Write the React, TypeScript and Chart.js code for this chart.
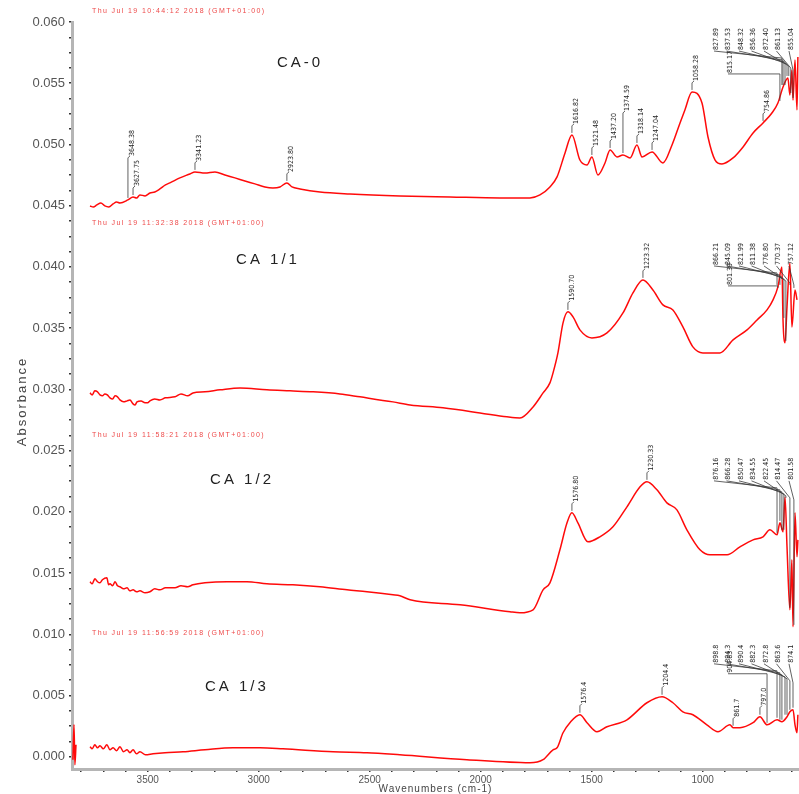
import React, { useEffect, useRef } from "react";
import { Chart, registerables } from "chart.js";

Chart.register(...registerables);

// ---------- axis ticks ----------
const X_MIN = 566;
const X_MAX = 3841;
const X_MAJOR = [3500, 3000, 2500, 2000, 1500, 1000];
const Y_MIN = -0.001;
const Y_MAX = 0.06;
const Y_MAJOR = [0, 0.005, 0.01, 0.015, 0.02, 0.025, 0.03, 0.035, 0.04, 0.045, 0.05, 0.055, 0.06];

// ---------- CA-0 ----------
const CA0_WN = [3760, 3745, 3729, 3711, 3693, 3675, 3656, 3640, 3625, 3589, 3566, 3550, 3535, 3512, 3490, 3468, 3445, 3420, 3400, 3355, 3310, 3287, 3242, 3197, 3152, 3107, 3062, 3017, 2972, 2936, 2904, 2873, 2850, 2814, 2724, 2589, 2364, 2138, 1913, 1778, 1733, 1688, 1656, 1620, 1589, 1553, 1521, 1499, 1472, 1440, 1417, 1386, 1359, 1327, 1296, 1273, 1228, 1179, 1138, 1102, 1080, 1048, 1003, 976, 944, 913, 863, 818, 773, 728, 688, 661, 638, 616, 607, 598, 593, 584, 575, 571];
const CA0_ABS = [0.04498, 0.0449, 0.04506, 0.04522, 0.04498, 0.0449, 0.04514, 0.0453, 0.04522, 0.04547, 0.04571, 0.04563, 0.04588, 0.0458, 0.04604, 0.04612, 0.04637, 0.0467, 0.04686, 0.04727, 0.04759, 0.04776, 0.04767, 0.04776, 0.04751, 0.04727, 0.04702, 0.04678, 0.04653, 0.04645, 0.04653, 0.04686, 0.04653, 0.04637, 0.04612, 0.04596, 0.0458, 0.04571, 0.04563, 0.04563, 0.04588, 0.04653, 0.04735, 0.04931, 0.05078, 0.04873, 0.04833, 0.04898, 0.04751, 0.04849, 0.04955, 0.04898, 0.04914, 0.0489, 0.04996, 0.04898, 0.04939, 0.04849, 0.04996, 0.05176, 0.05282, 0.05429, 0.05339, 0.05061, 0.04873, 0.04841, 0.0489, 0.0498, 0.05094, 0.05176, 0.05257, 0.05339, 0.05469, 0.05543, 0.05404, 0.05608, 0.05363, 0.0569, 0.05282, 0.05714];
const CA0_PEAKS: [number, string][] = [[3589, "3648.38"], [3566, "3627.75"], [3287, "3341.23"], [2873, "2923.80"], [1589, "1616.82"], [1499, "1521.48"], [1417, "1437.20"], [1359, "1374.59"], [1296, "1318.14"], [1228, "1247.04"], [1048, "1058.28"], [728, "754.86"]];
const CA0_CLUSTER: [number, string][] = [[643, "827.89"], [638, "837.53"], [629, "848.32"], [620, "856.36"], [612, "872.40"], [603, "861.13"], [593, "855.04"]];
const CA0_CLUSTER2: [number, string][] = [[652, "815.17"]];

// ---------- CA 1/1 ----------
const CA11_WN = [3760, 3750, 3738, 3726, 3715, 3704, 3693, 3682, 3670, 3658, 3647, 3636, 3625, 3609, 3593, 3580, 3566, 3557, 3548, 3530, 3512, 3500, 3490, 3468, 3445, 3420, 3377, 3350, 3320, 3296, 3242, 3174, 3084, 2963, 2859, 2755, 2634, 2544, 2395, 2318, 2170, 2003, 1882, 1823, 1764, 1719, 1688, 1674, 1652, 1629, 1607, 1584, 1553, 1499, 1431, 1359, 1314, 1269, 1224, 1179, 1134, 1089, 1044, 999, 922, 863, 800, 755, 710, 683, 661, 643, 638, 629, 620, 607, 598, 584, 575];
const CA11_ABS = [0.02971, 0.02955, 0.02988, 0.0298, 0.02955, 0.02947, 0.02963, 0.02955, 0.02931, 0.02922, 0.02947, 0.02939, 0.02914, 0.02898, 0.02906, 0.02914, 0.02882, 0.02873, 0.02898, 0.02906, 0.0289, 0.0289, 0.02906, 0.02922, 0.02914, 0.02931, 0.02939, 0.02963, 0.02947, 0.02971, 0.0298, 0.02996, 0.03012, 0.02996, 0.02988, 0.0298, 0.02963, 0.02939, 0.02898, 0.02873, 0.02849, 0.02808, 0.02776, 0.02767, 0.02857, 0.02971, 0.03053, 0.03135, 0.03298, 0.03543, 0.03633, 0.03592, 0.03486, 0.0342, 0.03461, 0.03624, 0.03788, 0.03894, 0.03812, 0.0369, 0.03649, 0.0351, 0.03347, 0.03298, 0.03298, 0.03404, 0.03486, 0.03567, 0.03649, 0.03731, 0.03837, 0.04, 0.03567, 0.0338, 0.03673, 0.04033, 0.0351, 0.03812, 0.03731];
const CA11_PEAKS: [number, string][] = [[1607, "1590.70"], [1269, "1223.32"]];
const CA11_CLUSTER: [number, string][] = [[665, "866.21"], [652, "845.09"], [643, "821.99"], [634, "811.38"], [625, "776.80"], [607, "770.37"], [589, "757.12"]];
const CA11_CLUSTER2: [number, string][] = [[661, "801.39"]];

// ---------- CA 1/2 ----------
const CA12_WN = [3760, 3750, 3738, 3726, 3715, 3704, 3684, 3676, 3670, 3658, 3647, 3636, 3625, 3609, 3593, 3580, 3566, 3550, 3535, 3512, 3490, 3468, 3445, 3420, 3377, 3350, 3320, 3296, 3242, 3143, 3053, 2963, 2846, 2724, 2602, 2512, 2395, 2364, 2318, 2093, 1868, 1823, 1764, 1719, 1688, 1643, 1611, 1589, 1562, 1517, 1463, 1404, 1341, 1282, 1251, 1206, 1161, 1116, 1071, 1012, 967, 890, 832, 773, 728, 697, 665, 652, 638, 629, 620, 607, 598, 593, 584, 575, 571];
const CA12_ABS = [0.01429, 0.01412, 0.01453, 0.01429, 0.0142, 0.01445, 0.01461, 0.01404, 0.01412, 0.01396, 0.01429, 0.01396, 0.01388, 0.01371, 0.0138, 0.01355, 0.01363, 0.01347, 0.01355, 0.01339, 0.01347, 0.01371, 0.01363, 0.0138, 0.0138, 0.01396, 0.01388, 0.01404, 0.0142, 0.01429, 0.01429, 0.01412, 0.01404, 0.01388, 0.01363, 0.01347, 0.01322, 0.01314, 0.01282, 0.01241, 0.01184, 0.01176, 0.012, 0.01363, 0.0142, 0.0169, 0.0191, 0.01992, 0.0191, 0.01755, 0.01796, 0.01878, 0.02041, 0.02204, 0.02245, 0.0218, 0.02073, 0.02016, 0.01853, 0.0169, 0.01649, 0.01649, 0.01714, 0.01771, 0.01796, 0.01853, 0.01812, 0.0191, 0.01837, 0.02122, 0.01714, 0.012, 0.01608, 0.01061, 0.01992, 0.01633, 0.01771];
const CA12_PEAKS: [number, string][] = [[1589, "1576.80"], [1251, "1230.33"]];
const CA12_CLUSTER: [number, string][] = [[665, "876.16"], [652, "866.28"], [643, "850.47"], [634, "834.55"], [625, "822.45"], [607, "814.47"], [589, "801.58"]];
const CA12_CLUSTER2: [number, string][] = [];

// ---------- CA 1/3 ----------
const CA13_WN = [3837, 3832, 3828, 3823, 3800, 3760, 3750, 3738, 3726, 3715, 3700, 3684, 3670, 3656, 3640, 3625, 3609, 3593, 3580, 3566, 3550, 3535, 3510, 3476, 3422, 3341, 3242, 3116, 2994, 2891, 2665, 2512, 2364, 2062, 1778, 1719, 1674, 1656, 1629, 1598, 1553, 1521, 1476, 1431, 1341, 1251, 1183, 1134, 1089, 1044, 981, 931, 877, 863, 832, 773, 742, 710, 665, 643, 620, 607, 593, 584, 575, 571];
const CA13_ABS = [-0.00024, 0.00261, -0.00065, 0.00098, null, 0.00082, 0.00065, 0.00098, 0.00073, 0.0009, 0.00065, 0.00098, 0.00057, 0.00073, 0.00049, 0.00082, 0.00041, 0.00057, 0.00033, 0.00057, 0.00024, 0.00041, 0.00016, 0.00024, 0.00033, 0.00041, 0.00057, 0.00073, 0.00073, 0.00065, 0.00041, 0.00033, 0.00016, -0.00024, -0.00049, -0.00024, 0.00057, 0.00073, 0.00196, 0.00278, 0.00343, 0.00278, 0.00204, 0.00245, 0.00302, 0.00441, 0.0049, 0.00441, 0.00367, 0.00343, 0.00261, 0.00204, 0.00261, 0.00237, 0.00237, 0.00278, 0.00327, 0.00261, 0.00302, 0.00286, 0.00327, 0.00367, 0.00384, 0.00261, 0.00196, 0.00343];
const CA13_PEAKS: [number, string][] = [[1553, "1576.4"], [1183, "1204.4"], [863, "861.7"], [742, "797.0"]];
const CA13_CLUSTER: [number, string][] = [[665, "898.8"], [652, "894.3"], [643, "890.4"], [629, "882.3"], [620, "872.8"], [607, "863.6"], [593, "874.1"]];
const CA13_CLUSTER2: [number, string][] = [[710, "904.63"]];

// ---------- texts ----------
const SAMPLE_NAMES = ["CA-0", "CA 1/1", "CA 1/2", "CA 1/3"];
const SCAN_DATES = [
  "Thu Jul 19 10:44:12 2018 (GMT+01:00)",
  "Thu Jul 19 11:32:38 2018 (GMT+01:00)",
  "Thu Jul 19 11:58:21 2018 (GMT+01:00)",
  "Thu Jul 19 11:56:59 2018 (GMT+01:00)",
];
const TALL_LABELS = ["3648.38", "1374.59"];

const SERIES = [
  { wn: CA0_WN, abs: CA0_ABS as (number | null)[], peaks: CA0_PEAKS, cluster: CA0_CLUSTER, cluster2: CA0_CLUSTER2 },
  { wn: CA11_WN, abs: CA11_ABS as (number | null)[], peaks: CA11_PEAKS, cluster: CA11_CLUSTER, cluster2: CA11_CLUSTER2 },
  { wn: CA12_WN, abs: CA12_ABS as (number | null)[], peaks: CA12_PEAKS, cluster: CA12_CLUSTER, cluster2: CA12_CLUSTER2 },
  { wn: CA13_WN, abs: CA13_ABS as (number | null)[], peaks: CA13_PEAKS, cluster: CA13_CLUSTER, cluster2: CA13_CLUSTER2 },
];

// text anchors (in axis units) for names, dates and label rows
const NAME_ANCHORS = [[2814, 0.05665], [2958, 0.04057], [3075, 0.02261], [3098, 0.00571]];
const DATE_ANCHORS = [[3751, 0.0609], [3751, 0.04359], [3751, 0.02629], [3751, 0.01012]];
const CLUSTER_ROW = [0.05771, 0.04016, 0.02261, 0.00767];
const CLUSTER2_ROW = [0.05584, 0.03853, 0.0, 0.00686];

const FONT = '"Liberation Sans", Arial, sans-serif';
const NARROW = '"Liberation Sans Narrow", "DejaVu Sans Condensed", "Liberation Sans", sans-serif';

function vtext(ctx: any, t: string, x: number, y: number) {
  ctx.save();
  ctx.translate(x, y);
  ctx.rotate(-Math.PI / 2);
  ctx.textAlign = "left";
  ctx.textBaseline = "middle";
  ctx.fillText(t, 0, 0);
  ctx.restore();
}

const annotPlugin = {
  id: "spectraAnnotations",
  afterDatasetsDraw(chart: any) {
    const ctx = chart.ctx;
    const area = chart.chartArea;
    const xs = chart.scales.x;
    const ys = chart.scales.y;
    const X = (v: number) => xs.getPixelForValue(v);
    const Y = (v: number) => ys.getPixelForValue(v);
    ctx.save();
    SERIES.forEach((s, si) => {
      const curveY = (w: number) => {
        let best = 0;
        let bd = Infinity;
        s.wn.forEach((ww, j) => {
          if (s.abs[j] == null) return;
          const d = Math.abs(ww - w);
          if (d < bd) {
            bd = d;
            best = j;
          }
        });
        return Y(s.abs[best] as number);
      };
      ctx.strokeStyle = "#3a3a3a";
      ctx.fillStyle = "#222";
      ctx.lineWidth = 0.8;
      ctx.font = "7px " + NARROW;
      s.peaks.forEach(([w, t]) => {
        const px = X(w);
        const py = curveY(w) - 2;
        const len = TALL_LABELS.includes(t) ? 40 : 7;
        ctx.beginPath();
        ctx.moveTo(px, py);
        ctx.lineTo(px, py - len);
        ctx.lineTo(px + 2, py - len - 2);
        ctx.stroke();
        vtext(ctx, t, px + 4, py - len - 2);
      });
      const n = s.cluster.length;
      const rowY = Y(CLUSTER_ROW[si]);
      s.cluster.forEach(([w, t], i) => {
        const px = X(w);
        const py = curveY(w) - 2;
        const cx = area.right - 8 - (n - 1 - i) * 12.5;
        const elbow = rowY + 8 + i * 2;
        ctx.beginPath();
        ctx.moveTo(cx - 2, rowY + 1);
        ctx.lineTo(px, elbow);
        ctx.lineTo(px, Math.max(py, elbow + 2));
        ctx.stroke();
        vtext(ctx, t, cx, rowY);
      });
      s.cluster2.forEach(([w, t]) => {
        const px = X(w);
        const py = curveY(w) - 2;
        const cx = area.right - 8 - (n - 1) * 12.5 + 14;
        const ry = Y(CLUSTER2_ROW[si]);
        ctx.beginPath();
        ctx.moveTo(cx - 2, ry + 1);
        ctx.lineTo(px, ry + 1);
        ctx.lineTo(px, Math.max(py, ry + 3));
        ctx.stroke();
        vtext(ctx, t, cx, ry);
      });
    });
    ctx.restore();
  },
  afterDraw(chart: any) {
    const ctx = chart.ctx;
    const xs = chart.scales.x;
    const ys = chart.scales.y;
    const area = chart.chartArea;
    ctx.save();
    ctx.font = "7px " + FONT;
    ctx.fillStyle = "#ee4a4a";
    (ctx as any).letterSpacing = "1.4px";
    ctx.textAlign = "left";
    ctx.textBaseline = "middle";
    SCAN_DATES.forEach((d, i) => {
      ctx.fillText(d, xs.getPixelForValue(DATE_ANCHORS[i][0]), ys.getPixelForValue(DATE_ANCHORS[i][1]));
    });
    ctx.font = "15px " + FONT;
    ctx.fillStyle = "#222";
    (ctx as any).letterSpacing = "3px";
    ctx.textAlign = "center";
    SAMPLE_NAMES.forEach((nm, i) => {
      ctx.fillText(nm, xs.getPixelForValue(NAME_ANCHORS[i][0]), ys.getPixelForValue(NAME_ANCHORS[i][1]));
    });
    ctx.fillStyle = "#444";
    ctx.font = "10px " + FONT;
    (ctx as any).letterSpacing = "1px";
    ctx.textAlign = "center";
    ctx.fillText("Wavenumbers (cm-1)", (area.left + area.right) / 2, chart.height - 5);
    ctx.font = "13px " + FONT;
    (ctx as any).letterSpacing = "2px";
    ctx.save();
    ctx.translate(22, (area.top + area.bottom) / 2 + 6);
    ctx.rotate(-Math.PI / 2);
    ctx.fillText("Absorbance", 0, 0);
    ctx.restore();
    ctx.restore();
  },
};

export default function App() {
  const ref = useRef<HTMLCanvasElement | null>(null);
  useEffect(() => {
    const canvas = ref.current;
    if (!canvas) return;
    const datasets = SERIES.map((s, i) => ({
      label: SAMPLE_NAMES[i],
      data: s.wn.map((w, j) => ({ x: w, y: s.abs[j] === undefined ? null : s.abs[j] })),
      borderColor: "#ff0a0a",
      borderWidth: 1.5,
      pointRadius: 0,
      cubicInterpolationMode: "monotone",
      spanGaps: false,
      fill: false,
    }));
    const xMinor: number[] = [];
    for (let v = 600; v <= 3800; v += 100) xMinor.push(v);
    const yMinor: number[] = [];
    for (let k = 0; k <= 48; k++) yMinor.push(+(k * 0.00125).toFixed(5));
    const chart = new Chart(canvas, {
      type: "line",
      data: { datasets } as any,
      options: {
        responsive: false,
        maintainAspectRatio: false,
        animation: false,
        layout: { padding: { top: 22, right: 0, bottom: 0, left: 0 } },
        plugins: { legend: { display: false }, tooltip: { enabled: false }, title: { display: false } },
        scales: {
          x: {
            type: "linear",
            reverse: true,
            min: X_MIN,
            max: X_MAX,
            afterBuildTicks: (sc: any) => {
              sc.ticks = xMinor.map((v) => ({ value: v }));
            },
            afterFit: (sc: any) => {
              sc.height = 25;
            },
            ticks: {
              autoSkip: false,
              maxRotation: 0,
              minRotation: 0,
              padding: 2,
              color: "#555",
              font: { size: 10, family: FONT },
              callback: (v: any) => (X_MAJOR.includes(Number(v)) ? String(v) : ""),
            },
            grid: { drawOnChartArea: false, drawTicks: true, tickLength: 3, color: "#333", lineWidth: 1.5 },
            border: { display: true, color: "#b5b5b5", width: 3 },
          },
          y: {
            type: "linear",
            min: Y_MIN,
            max: Y_MAX,
            afterBuildTicks: (sc: any) => {
              sc.ticks = yMinor.map((v) => ({ value: v }));
            },
            afterFit: (sc: any) => {
              sc.width = 72;
            },
            ticks: {
              autoSkip: false,
              padding: 4,
              color: "#555",
              font: { size: 13, family: FONT },
              callback: (v: any) => {
                const num = Number(v);
                return Y_MAJOR.some((m) => Math.abs(m - num) < 1e-7) ? num.toFixed(3) : "";
              },
            },
            grid: { drawOnChartArea: false, drawTicks: true, tickLength: 3, color: "#333", lineWidth: 1.5 },
            border: { display: true, color: "#b5b5b5", width: 3 },
          },
        },
      } as any,
      plugins: [annotPlugin as any],
    });
    return () => chart.destroy();
  }, []);
  return (
    <div style={{ position: "absolute", left: 0, top: 0, width: 799, height: 794, background: "#fff" }}>
      <canvas ref={ref} width={799} height={794} style={{ display: "block" }} />
    </div>
  );
}
